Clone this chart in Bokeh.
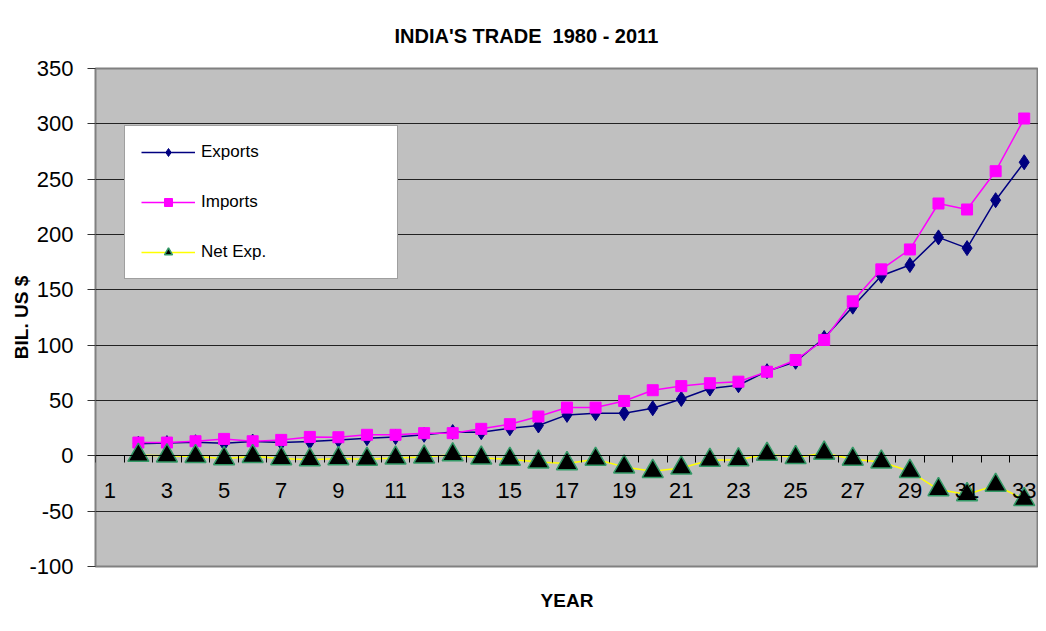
from bokeh.plotting import figure
from bokeh.models import (FixedTicker, Legend, LegendItem, Title, Range1d)
from bokeh.embed import file_html
from bokeh.resources import INLINE

# ---- data ----
category = list(range(2, 34))            # category positions (1980 .. 2011)
exports = [11.0, 11.5, 12.3, 11.4, 12.9, 12.0, 13.0, 14.4, 16.0, 17.0, 19.0, 21.5,
           21.4, 25.0, 27.4, 37.0, 38.5, 38.5, 43.0, 51.4, 60.8, 63.8, 76.5, 85.0,
           106.5, 134.8, 162.7, 172.4, 197.4, 187.7, 231.0, 265.3]
imports = [12.0, 12.0, 13.2, 15.3, 13.2, 14.4, 17.1, 16.8, 19.0, 19.0, 20.5, 20.5,
           24.4, 28.6, 35.5, 43.6, 43.6, 49.6, 59.3, 63.0, 65.6, 67.0, 76.0, 86.6,
           104.7, 139.6, 168.5, 186.5, 228.0, 222.6, 257.2, 304.8]
net_exp = [0.5, 0.0, -0.5, -2.5, -0.5, -2.5, -3.5, -2.5, -3.0, -2.0, -1.0, 1.0,
           -2.0, -3.0, -5.5, -7.0, -3.0, -10.0, -14.0, -11.0, -4.0, -3.5, 1.5, -1.5,
           2.5, -3.0, -5.5, -14.0, -30.5, -35.0, -26.5, -39.5]
x_tick_labels = list(range(1, 34, 2))
y_ticks = list(range(-100, 351, 50))

FONT = "Liberation Sans"

p = figure(width=1038, height=631, output_backend="svg", toolbar_location=None,
           x_range=Range1d(0.5, 33.5), y_range=Range1d(-100, 350),
           min_border_left=95, min_border_right=0, min_border_top=68,
           min_border_bottom=64, background_fill_color="#C0C0C0",
           border_fill_color="white")

p.title = Title(text="INDIA'S TRADE\u00a0 1980 - 2011", align="left",
                text_font=FONT, text_font_size="20px", text_font_style="bold",
                text_color="black", offset=299, standoff=44)
p.add_layout(Title(text="YEAR", align="center", text_font=FONT,
                   text_font_size="19px", text_font_style="bold",
                   text_color="black", standoff=42), "below")

p.outline_line_color = "#808080"
p.outline_line_width = 2

# grid
p.xgrid.grid_line_color = None
p.ygrid.grid_line_color = "#222222"
p.ygrid.grid_line_width = 1
p.ygrid.ticker = FixedTicker(ticks=y_ticks)

# y axis
p.yaxis.ticker = FixedTicker(ticks=y_ticks)
p.yaxis.major_label_overrides = {v: str(v) for v in y_ticks}
p.yaxis.axis_line_color = None
p.yaxis.major_tick_out = 8
p.yaxis.major_tick_in = 0
p.yaxis.minor_tick_line_color = None
p.yaxis.major_tick_line_color = "#333333"
p.yaxis.major_label_text_font = FONT
p.yaxis.major_label_text_font_size = "22px"
p.yaxis.major_label_text_color = "black"
p.yaxis.major_label_standoff = 14
p.yaxis.axis_label = "BIL. US $"
p.yaxis.axis_label_text_font = FONT
p.yaxis.axis_label_text_font_size = "19px"
p.yaxis.axis_label_text_font_style = "bold"
p.yaxis.axis_label_text_color = "black"
p.yaxis.axis_label_standoff = -6

# x axis at y = 0
p.xaxis.fixed_location = 0
p.xaxis.ticker = FixedTicker(ticks=x_tick_labels,
                             minor_ticks=[i + 0.5 for i in range(0, 34)])
p.xaxis.axis_line_color = "black"
p.xaxis.major_tick_out = 0
p.xaxis.major_tick_in = 0
p.xaxis.minor_tick_out = 7
p.xaxis.minor_tick_in = 0
p.xaxis.minor_tick_line_color = "black"
p.xaxis.major_label_text_font = FONT
p.xaxis.major_label_text_font_size = "22px"
p.xaxis.major_label_text_color = "black"
p.xaxis.major_label_standoff = 20

# series
r_el = p.line(category, exports, line_color="#000080", line_width=1.5)
r_em = p.scatter(category, exports, marker="diamond", size=15,
                 fill_color="#000080", line_color="#000080")
r_il = p.line(category, imports, line_color="#FF00FF", line_width=1.5)
r_im = p.scatter(category, imports, marker="square", size=11,
                 fill_color="#FF00FF", line_color="#FF00FF")
r_nl = p.line(category, net_exp, line_color="#FFFF00", line_width=1.5)
r_nm = p.scatter(category, net_exp, marker="triangle", size=21,
                 fill_color="black", line_color="#339966", line_width=1.5)

legend = Legend(items=[
    LegendItem(label="Exports", renderers=[r_el, r_em]),
    LegendItem(label="Imports", renderers=[r_il, r_im]),
    LegendItem(label="Net Exp.", renderers=[r_nl, r_nm]),
], location=(29, 287), padding=16, spacing=30, glyph_width=54,
    glyph_height=20, label_height=20, label_width=180, label_standoff=6,
    label_text_font=FONT, label_text_font_size="17px", label_text_color="black",
    border_line_color="#404040", border_line_width=1.5,
    background_fill_color="white", background_fill_alpha=1.0, margin=0)
p.add_layout(legend, "center")

open("out.html", "w").write(file_html(p, INLINE))
